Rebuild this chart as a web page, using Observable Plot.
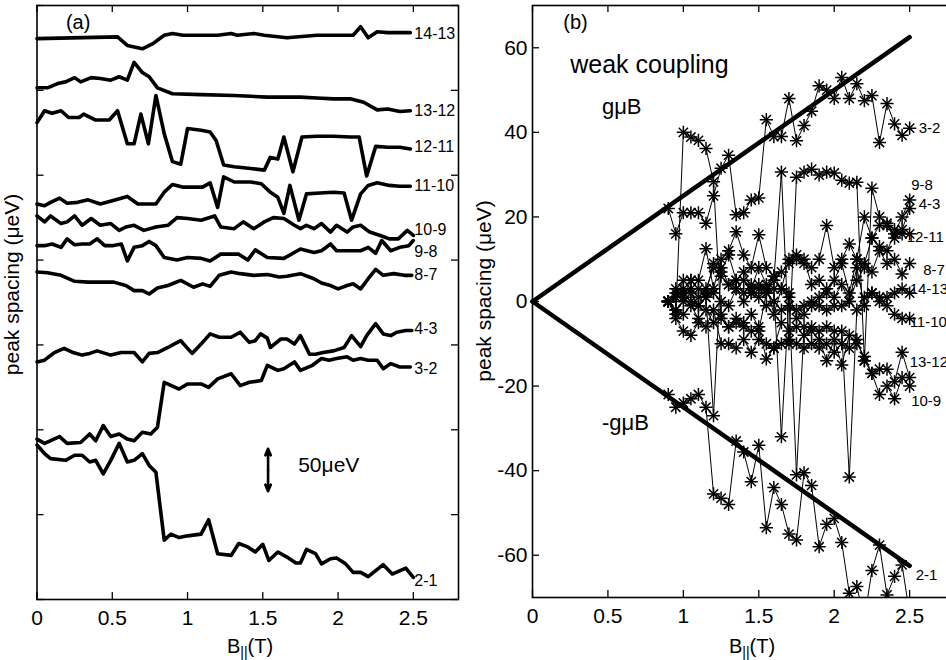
<!DOCTYPE html>
<html>
<head>
<meta charset="utf-8">
<script src="https://cdn.jsdelivr.net/npm/d3@7"></script>
<script src="https://cdn.jsdelivr.net/npm/@observablehq/plot@0.6"></script>
<style>
html, body { margin: 0; padding: 0; background: #fff; overflow: hidden; width: 946px; height: 660px; }
#wrap { position: relative; width: 946px; height: 660px; overflow: hidden; background: #fff; }
.panel { position: absolute; top: 0; height: 660px; }
.panel svg { max-width: none !important; }
</style>
</head>
<body>
<div id="wrap">
  <div id="pa" class="panel" style="left:0px; width:473px"></div>
  <div id="pb" class="panel" style="left:473px; width:500px"></div>
</div>
<script>
const FONT = "'Liberation Sans', Arial, Helvetica, sans-serif";

// ---------- Panel (a): peak spacing traces (µeV, offset), vs B (T) ----------
const a14_13_x = [0,0.535,0.6,0.7,0.77,0.845,0.9,0.97,1.09,1.2,1.29,1.33,1.44,1.51,1.66,1.86,2.1,2.15,2.2,2.26,2.33,2.41,2.48];
const a14_13_v = [661,663,653,649,655,665,667,665,665,665,667,665,667,665,662,665,665,675,662,669,668,668,668];

const a13_12_x = [0,0.07,0.137,0.19,0.25,0.29,0.36,0.42,0.49,0.546,0.6,0.645,0.7,0.745,0.8,0.9,1.09,1.31,1.53,1.75,1.86,1.97,2.08,2.17,2.26,2.33,2.41,2.48];
const a13_12_v = [603,603,608,610,615,610,615,614,612,616,612,633,621,616,603,596,595,594,592,592,591,590,590,586,577,578,575,576];

const a12_11_x = [0,0.05,0.10,0.16,0.21,0.28,0.31,0.39,0.48,0.535,0.6,0.645,0.69,0.74,0.79,0.845,0.9,0.955,1.0,1.09,1.15,1.19,1.24,1.31,1.42,1.51,1.55,1.6,1.64,1.7,1.76,1.86,1.97,2.08,2.14,2.19,2.25,2.33,2.41,2.48];
const a12_11_v = [562,576,573,576,568,568,572,565,565,576,537,537,572,537,594,549,516,513,555,553,551,541,512,510,508,506,521,519,545,504,545,546,546,545,545,499,534,533,533,531];

const a11_10_x = [0,0.05,0.09,0.15,0.2,0.27,0.34,0.42,0.5,0.6,0.67,0.79,0.845,0.9,0.966,1.03,1.1,1.15,1.2,1.24,1.31,1.42,1.49,1.55,1.6,1.64,1.68,1.74,1.79,1.88,1.97,2.04,2.09,2.15,2.2,2.26,2.34,2.41,2.48];
const a11_10_v = [466,464,468,473,467,468,471,466,470,475,466,466,480,489,486,486,486,491,462,498,492,492,490,480,474,455,488,447,478,479,480,479,447,478,488,491,488,487,487];

const a10_9_x = [0,0.05,0.09,0.16,0.2,0.25,0.3,0.36,0.42,0.49,0.546,0.59,0.645,0.71,0.79,0.87,0.93,1.0,1.09,1.18,1.22,1.31,1.37,1.44,1.51,1.57,1.64,1.71,1.75,1.79,1.84,1.89,1.95,1.99,2.06,2.1,2.15,2.21,2.28,2.34,2.4,2.46,2.5];
const a10_9_v = [452,445,452,443,445,452,441,449,441,443,435,439,441,435,439,441,450,449,447,452,439,437,445,437,445,450,449,441,437,441,437,443,433,441,433,439,441,433,429,425,425,435,429];

const a9_8_x = [0,0.05,0.1,0.16,0.2,0.25,0.3,0.35,0.4,0.45,0.5,0.56,0.6,0.645,0.7,0.745,0.79,0.845,0.93,1.0,1.09,1.15,1.22,1.29,1.34,1.4,1.45,1.53,1.64,1.75,1.84,1.89,1.95,1.99,2.06,2.15,2.2,2.25,2.29,2.35,2.41,2.47,2.5];
const a9_8_v = [417,417,419,415,425,418,419,419,425,417,417,419,399,415,417,422,417,403,400,403,402,399,407,407,407,400,412,403,402,413,409,411,419,411,411,411,415,408,423,411,415,417,423];

const a8_7_x = [0,0.07,0.16,0.25,0.34,0.42,0.51,0.59,0.645,0.7,0.745,0.8,0.87,0.955,1.04,1.1,1.15,1.21,1.29,1.35,1.44,1.53,1.61,1.66,1.75,1.84,1.89,1.95,2.0,2.06,2.1,2.15,2.2,2.25,2.3,2.37,2.44,2.49];
const a8_7_v = [386,385,382,375,374,374,374,370,364,364,360,367,370,376,368,372,369,382,386,384,382,383,380,381,384,378,373,370,366,370,372,366,378,389,382,384,382,382];

const a4_3_x = [0,0.05,0.115,0.18,0.24,0.3,0.35,0.4,0.49,0.56,0.645,0.7,0.745,0.8,0.87,0.91,0.955,1.03,1.09,1.15,1.21,1.29,1.35,1.41,1.45,1.485,1.53,1.55,1.62,1.66,1.71,1.75,1.81,1.85,1.9,1.97,2.04,2.09,2.15,2.19,2.25,2.3,2.35,2.39,2.45,2.49];
const a4_3_v = [280,282,291,296,291,288,290,293,288,291,291,280,290,291,297,301,305,290,301,313,309,309,315,303,305,313,308,297,307,307,301,311,289,289,291,293,297,311,298,311,325,313,311,315,317,317];

const a3_2_x = [0,0.05,0.15,0.2,0.29,0.35,0.39,0.44,0.49,0.546,0.6,0.645,0.7,0.756,0.8,0.845,0.944,1.0,1.09,1.14,1.2,1.29,1.35,1.41,1.49,1.53,1.6,1.64,1.71,1.75,1.83,1.89,1.94,1.99,2.06,2.1,2.15,2.2,2.26,2.3,2.35,2.41,2.48];
const a3_2_v = [189,184,192,184,185,195,187,205,192,195,189,187,197,195,203,256,248,254,254,250,260,266,252,256,258,276,270,272,280,270,276,284,282,284,286,282,284,282,282,272,278,274,274];

const a2_1_x = [0,0.05,0.09,0.19,0.25,0.3,0.35,0.39,0.44,0.49,0.546,0.6,0.645,0.7,0.745,0.79,0.845,0.89,0.944,1.0,1.09,1.14,1.2,1.29,1.34,1.4,1.45,1.5,1.54,1.6,1.66,1.72,1.75,1.79,1.85,1.89,1.95,1.99,2.05,2.1,2.15,2.2,2.25,2.3,2.36,2.45,2.5];
const a2_1_v = [182,172,166,164,170,170,162,164,148,164,184,162,164,172,158,150,70,77,73,75,77,94,54,52,66,62,56,65,46,56,50,43,43,59,54,42,48,49,42,32,32,27,34,41,30,37,26];

const tracesA = [
  ["14-13", a14_13_x, a14_13_v], ["13-12", a13_12_x, a13_12_v], ["12-11", a12_11_x, a12_11_v],
  ["11-10", a11_10_x, a11_10_v], ["10-9", a10_9_x, a10_9_v], ["9-8", a9_8_x, a9_8_v],
  ["8-7", a8_7_x, a8_7_v], ["4-3", a4_3_x, a4_3_v], ["3-2", a3_2_x, a3_2_v], ["2-1", a2_1_x, a2_1_v]
];
// label anchor values (µeV) at right end of panel (a)
const labelA_names = ["14-13","13-12","12-11","11-10","10-9","9-8","8-7","4-3","3-2","2-1"];
const labelA_v     = [667, 576, 533, 488, 436, 410, 382, 319, 272, 22];

// ---------- Panel (b): peak spacing (µeV) vs B (T), weak coupling ----------
const xB = [0.9,0.95,1.0,1.05,1.1,1.15,1.2,1.25,1.3,1.35,1.4,1.45,1.5,1.55,1.6,1.65,1.7,1.75,1.8,1.85,1.9,1.95,2.0,2.05,2.1,2.15,2.2,2.25,2.3,2.35,2.4,2.45,2.5];
const b3_2   = [22,16,21,21,21,18.5,25,31.5,34.6,20.5,21,24,24.5,43,39,39,48,38,41.6,45,51,50,48,53,48,51.5,47.5,48.7,37.6,46.8,42,39.3,41];
const b12_11 = [0,-3,40,38.9,38.1,36.2,28.3,-4,-6,-5,-6,-7,-7,2,5,30.6,-10,29.4,30.6,31.3,29.9,30.6,30.4,28.7,28,28.2,-14,26.8,20,18.5,17,16,16];
const b11_10 = [0,2,3,3,1,1,-27,8,4,5,2,4,3,2,3,-32,1,-41,-6,-6,-7,-6,-7,-7,-41.5,-2,1,2,0,-1,-3,-4,-4];
const b2_1   = [-22,-25,-24,-23,-22,-25,-45.5,-46.5,-48,-33,-35.6,-42.6,-34,-53.5,-44,-48,-55,-56.4,-40.5,-43.5,-58,-52.7,-51.3,-57,-69,-67.4,-75,-63.6,-57.6,-69.4,-65,-62.3,-74];
const b14_13 = [0,1,2,0,-1,1,2,0,-1,3,0,2,1,-1,0,-2,-1,-2,-1,0,-1,-2,-1,-1,0,8,-1,2,1,1,2,3,2];
const b13_12 = [0,-2,-3,-1,-4,-2,-5,-3,-6,-4,-5,-3,-6,-13.6,-11,-5,-7,-6,-8,-7,-9,-14,-9,-15,-8,-10,-13,-17,-16,-16,-19,-12,-18];
const b10_9  = [0,-4,-7,-8,-5,-6,-2,-10,-10,-11,-9,-12,-9,-10,-11,-10,-9,-10,-11,-10,-11,-10,-12,-10,-11,-9,-14,-17,-22,-20,-23,-18,-20];
const b9_8   = [0,3,1,5,5,12.5,3,10,12,16.5,11,8,15.8,8,6,7,9,10,9,8,10,18,8,10,13.6,10,9,15,13,12,16,20,24];
const b8_7   = [0,-2,0,2,-1,3,8,6,4,3,5,2,4,3,6,3,10,11,10,4,5,3,1,4,0,5,8,7,12,9,10,6.5,9];
const b4_3   = [0,1,5,5,3,2,9,7,11,5,7,3,8,4,-3,3,2,-4,-3,-1,1,2,5,9,2,10,20,15,18,18,15,17,22];

const seriesB = [
  ["3-2", b3_2], ["12-11", b12_11], ["11-10", b11_10], ["2-1", b2_1], ["14-13", b14_13],
  ["13-12", b13_12], ["10-9", b10_9], ["9-8", b9_8], ["8-7", b8_7], ["4-3", b4_3]
];
const labelB_names = ["3-2","9-8","4-3","12-11","8-7","14-13","11-10","13-12","10-9","2-1"];
const labelB_x     = [2.56, 2.51, 2.56, 2.48, 2.59, 2.50, 2.50, 2.50, 2.51, 2.54];
const labelB_y     = [41, 27.6, 22.9, 15.3, 7.5, 2.8, -4.9, -14.4, -23.5, -64.7];

// Zeeman lines ±gµB (slope in µeV/T)
const gmuB = 25;
const zeemanB = [0, 2.5];

const xTicks = [0, 0.5, 1, 1.5, 2, 2.5];
const yTicksA = [0, 100, 200, 300, 400, 500, 600, 700];
const yTicksB = [-60, -40, -20, 0, 20, 40, 60];

// ---------- build tables ----------
const dataA = tracesA.flatMap(([name, xs, vs]) => xs.map((x, i) => ({series: name, B: x, v: vs[i]})).filter(d => d.v !== undefined));
const dataB = seriesB.flatMap(([name, vs]) => xB.map((x, i) => ({series: name, B: x, v: vs[i]})).filter(d => d.v !== undefined));
const labelsA = labelA_names.map((n, i) => ({text: n, B: 2.5, v: labelA_v[i]}));
const labelsB = labelB_names.map((n, i) => ({text: n, B: labelB_x[i], v: labelB_y[i]}));
const zeemanUp = zeemanB.map(b => ({B: b, v: gmuB * b}));
const zeemanDn = zeemanB.map(b => ({B: b, v: -gmuB * b}));

function ticks(plotW, plotH, len, yT) {
  return [
    Plot.tickX(xTicks, {x: d => d, insetTop: plotH - len, strokeWidth: 1.3}),
    Plot.tickX(xTicks, {x: d => d, insetBottom: plotH - len, strokeWidth: 1.3}),
    Plot.tickY(yT, {y: d => d, insetRight: plotW - len, strokeWidth: 1.3}),
    Plot.tickY(yT, {y: d => d, insetLeft: plotW - len, strokeWidth: 1.3})
  ];
}

// ---------- Panel (a) ----------
const A = {W: 473, H: 660, mL: 36.5, mR: 15, mT: 5, mB: 61};
const aPlotW = A.W - A.mL - A.mR, aPlotH = A.H - A.mT - A.mB;
const plotA = Plot.plot({
  width: A.W, height: A.H,
  marginLeft: A.mL, marginRight: A.mR, marginTop: A.mT, marginBottom: A.mB,
  style: {fontFamily: FONT, fontSize: "21px", color: "black", background: "white", overflow: "visible", maxWidth: "none"},
  x: {domain: [0, 2.8], axis: null},
  y: {domain: [0, 700], axis: null},
  marks: [
    ...ticks(aPlotW, aPlotH, 7, yTicksA),
    Plot.axisX(xTicks, {anchor: "bottom", tickSize: 0, tickPadding: 11, fontSize: 21, label: null, tickFormat: d => String(d)}),
    Plot.line(dataA, {x: "B", y: "v", z: "series", stroke: "black", strokeWidth: 3.6, strokeLinejoin: "round", strokeLinecap: "round"}),
    Plot.text(labelsA, {x: "B", y: "v", text: "text", textAnchor: "start", dx: 1, fontSize: 16, fill: "black"}),
    Plot.arrow([{x1: 1.535, y1: 152.6, x2: 1.535, y2: 177.6}, {x1: 1.535, y1: 152.6, x2: 1.535, y2: 127.6}],
      {x1: "x1", y1: "y1", x2: "x2", y2: "y2", stroke: "black", strokeWidth: 2.6, headLength: 9, headAngle: 45}),
    Plot.text([{t: "50μeV", B: 1.735, v: 158}], {x: "B", y: "v", text: "t", textAnchor: "start", fontSize: 21, fill: "black"}),
    Plot.text([{t: "(a)", B: 0.273, v: 680}], {x: "B", y: "v", text: "t", textAnchor: "middle", fontSize: 20, fill: "black"}),
    Plot.frame({stroke: "black", strokeWidth: 1.6})
  ]
});
document.getElementById("pa").appendChild(plotA);

// ---------- Panel (b) ----------
const Bp = {W: 500, H: 660, mL: 59, mR: 18.6, mT: 5, mB: 63};
const bPlotW = Bp.W - Bp.mL - Bp.mR, bPlotH = Bp.H - Bp.mT - Bp.mB;
const plotB = Plot.plot({
  width: Bp.W, height: Bp.H,
  marginLeft: Bp.mL, marginRight: Bp.mR, marginTop: Bp.mT, marginBottom: Bp.mB,
  style: {fontFamily: FONT, fontSize: "21px", color: "black", background: "white", overflow: "visible", maxWidth: "none"},
  x: {domain: [0, 2.8], axis: null},
  y: {domain: [-70, 70], axis: null},
  marks: [
    ...ticks(bPlotW, bPlotH, 7, yTicksB),
    Plot.axisX(xTicks, {anchor: "bottom", tickSize: 0, tickPadding: 11, fontSize: 21, label: null, tickFormat: d => String(d)}),
    Plot.axisY(yTicksB, {anchor: "left", tickSize: 0, tickPadding: 5, fontSize: 21, label: null, tickFormat: d => String(d)}),
    Plot.line(zeemanUp, {x: "B", y: "v", stroke: "black", strokeWidth: 4.5}),
    Plot.line(zeemanDn, {x: "B", y: "v", stroke: "black", strokeWidth: 4.5}),
    Plot.line(dataB, {x: "B", y: "v", z: "series", stroke: "black", strokeWidth: 1, clip: true}),
    Plot.dot(dataB, {x: "B", y: "v", symbol: "plus", r: 4.3, stroke: "black", strokeWidth: 1.5, clip: true}),
    Plot.dot(dataB, {x: "B", y: "v", symbol: "times", r: 4.3, stroke: "black", strokeWidth: 1.5, clip: true}),
    Plot.text(labelsB, {x: "B", y: "v", text: "text", textAnchor: "start", fontSize: 15, fill: "black"}),
    Plot.text([{t: "(b)", B: 0.285, v: 66}], {x: "B", y: "v", text: "t", textAnchor: "middle", fontSize: 20, fill: "black"}),
    Plot.text([{t: "weak coupling", B: 0.25, v: 56}], {x: "B", y: "v", text: "t", textAnchor: "start", fontSize: 25, fill: "black"}),
    Plot.text([{t: "gμB", B: 0.46, v: 46}], {x: "B", y: "v", text: "t", textAnchor: "start", fontSize: 22, fill: "black"}),
    Plot.text([{t: "-gμB", B: 0.46, v: -28.7}], {x: "B", y: "v", text: "t", textAnchor: "start", fontSize: 22, fill: "black"}),
    Plot.frame({stroke: "black", strokeWidth: 1.6})
  ]
});
document.getElementById("pb").appendChild(plotB);

// ---------- axis titles (with subscript) ----------
function addTitles(svgNode, xCenter, yLabelX, yLabelY) {
  const svg = d3.select(svgNode);
  const t = svg.append("text").attr("x", xCenter).attr("y", 653)
    .attr("text-anchor", "middle").attr("fill", "black")
    .style("font-family", FONT).style("font-size", "20px");
  t.append("tspan").text("B");
  t.append("tspan").attr("dy", 4).style("font-size", "14px").text("||");
  t.append("tspan").attr("dy", -4).text("(T)");
  svg.append("text")
    .attr("transform", `translate(${yLabelX},${yLabelY}) rotate(-90)`)
    .attr("text-anchor", "middle").attr("fill", "black")
    .style("font-family", FONT).style("font-size", "21px")
    .text("peak spacing (μeV)");
}
addTitles(plotA, 250, 19, 284.5);
addTitles(plotB, 279, 18, 291);
</script>
</body>
</html>
